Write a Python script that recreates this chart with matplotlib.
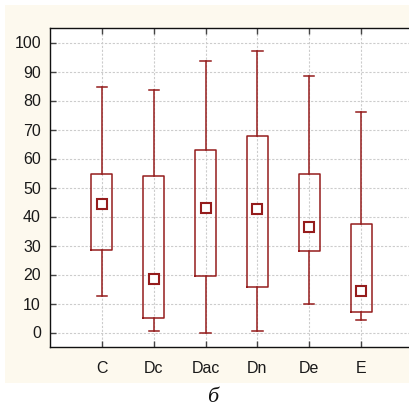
import matplotlib
matplotlib.use("Agg")
import matplotlib.pyplot as plt
from matplotlib.patches import Rectangle

categories = ["C", "Dc", "Dac", "Dn", "De", "E"]
whisker_low = [12.5, 0.5, 0.0, 0.6, 9.9, 4.3]
box_low = [28.6, 5.1, 19.4, 15.7, 28.2, 7.1]
center = [44.4, 18.6, 42.8, 42.7, 36.3, 14.4]
box_high = [54.7, 53.9, 62.9, 67.7, 54.8, 37.3]
whisker_high = [84.6, 83.6, 93.7, 97.1, 88.6, 76.2]
yticks = list(range(0, 101, 10))
caption = "б"

W, H = 409, 408
fig = plt.figure(figsize=(W / 100, H / 100), dpi=100)
fig.patch.set_facecolor("white")
fig.add_artist(Rectangle((5 / W, (H - 383) / H), 1.0, (383 - 5) / H,
                         transform=fig.transFigure, facecolor="#FDF9EE",
                         edgecolor="none", zorder=-10))

ax = fig.add_axes([50 / W, (H - 347) / H, (413 - 50) / W, (347 - 28) / H])
ax.set_facecolor("white")

red = "#951C1C"
stats = []
for i, c in enumerate(categories):
    stats.append(dict(label=c, med=center[i], mean=center[i], q1=box_low[i],
                      q3=box_high[i], whislo=whisker_low[i],
                      whishi=whisker_high[i], fliers=[]))

ax.bxp(stats, positions=range(1, len(categories) + 1), widths=0.4,
       capwidths=0.2, showmeans=True, showfliers=False,
       boxprops=dict(color=red, linewidth=1.1),
       whiskerprops=dict(color=red, linewidth=1.1),
       capprops=dict(color=red, linewidth=1.1),
       medianprops=dict(visible=False),
       meanprops=dict(marker="s", markerfacecolor="white",
                      markeredgecolor=red, markersize=6.5, markeredgewidth=1.5),
       zorder=3)

ax.set_xlim(0, 7)
ax.set_ylim(-5, 105)
ax.set_yticks(yticks)
ax.set_xticks(range(1, len(categories) + 1))
ax.set_xticklabels(categories)
ax.grid(True, color="#cccccc", linestyle=(0, (2, 1.5)), linewidth=0.8, zorder=0)
ax.set_axisbelow(True)
ax.tick_params(direction="in", length=4, width=1, color="#444444",
               top=True, labelsize=11.5, labelcolor="#1a1a1a")
ax.tick_params(axis="y", pad=6.5)
ax.tick_params(axis="x", pad=10)
for lab in ax.get_xticklabels() + ax.get_yticklabels():
    lab.set_family("Liberation Sans")
for sp in ax.spines.values():
    sp.set_color("#111111")
    sp.set_linewidth(1.0)

fig.text(213 / W, (H - 397) / H, caption, ha="center", va="center",
         fontsize=16, style="italic", family="Liberation Serif", color="#111111")

fig.savefig("out.png", dpi=100)
